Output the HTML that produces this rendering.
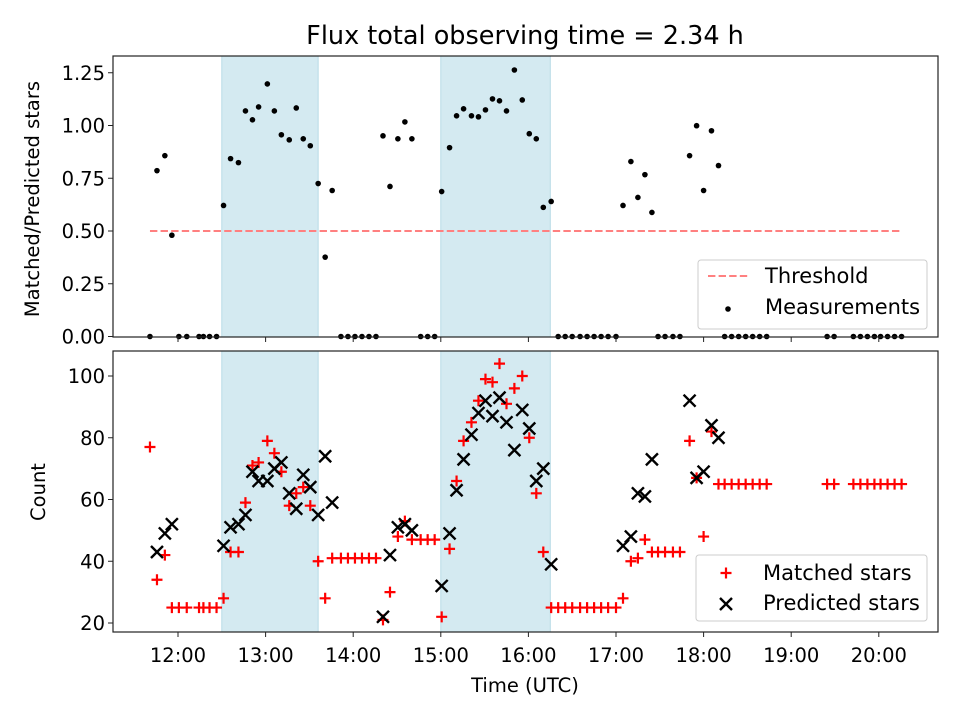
<!DOCTYPE html>
<html><head><meta charset="utf-8"><style>
body{margin:0;background:#fff}
svg{display:block;font-family:"DejaVu Sans","Liberation Sans",sans-serif}
</style></head><body>
<svg id="chart" width="960" height="720" viewBox="0 0 960 720"></svg>
<script>
const times=[11.68,11.76,11.85,11.93,12.01,12.10,12.24,12.29,12.36,12.44,
12.52,12.60,12.69,12.77,12.85,12.92,13.02,13.10,13.18,13.27,13.35,13.43,13.51,13.60,13.68,13.76,
13.86,13.94,14.02,14.10,14.18,14.26,
14.34,14.42,14.51,14.59,14.67,
14.77,14.85,14.93,
15.01,15.10,15.18,15.26,15.35,15.43,15.51,15.59,15.67,15.75,15.84,15.93,16.01,16.09,16.17,16.26,
16.34,16.42,16.50,16.59,16.67,16.75,16.83,16.91,17.00,
17.08,17.17,17.25,17.33,17.41,
17.48,17.56,17.65,17.73,
17.84,17.92,18.00,18.09,18.17,
18.24,18.32,18.40,18.48,18.56,18.64,18.72,
19.41,19.49,19.71,19.79,19.87,19.95,20.02,20.10,20.18,20.26];
const ratio=[0,0.786,0.857,0.48,0,0,0,0,0,0,
0.621,0.843,0.824,1.069,1.027,1.088,1.197,1.069,0.956,0.932,1.083,0.937,0.904,0.725,0.376,0.692,
0,0,0,0,0,0,
0.951,0.711,0.937,1.017,0.937,
0,0,0,
0.687,0.895,1.046,1.079,1.046,1.041,1.074,1.126,1.117,1.069,1.263,1.121,0.961,0.937,0.612,0.640,
0,0,0,0,0,0,0,0,0,
0.621,0.829,0.659,0.767,0.588,
0,0,0,0,
0.857,0.999,0.692,0.975,0.810,
0,0,0,0,0,0,0,
0,0,0,0,0,0,0,0,0,0];
const matched=[77,34,42,25,25,25,25,25,25,25,
28,43,43,59,71,72,79,75,69,58,62,64,58,40,28,41,
41,41,41,41,41,41,
21,30,48,53,47,
47,47,47,
22,44,66,79,85,92,99,98,104,91,96,100,80,62,43,25,
25,25,25,25,25,25,25,25,25,
28,40,41,47,43,
43,43,43,43,
79,67,48,82,65,
65,65,65,65,65,65,65,
65,65,65,65,65,65,65,65,65,65];
const predicted=[null,43,49,52,null,null,null,null,null,null,
45,51,52,55,69,66,66,70,72,62,57,68,64,55,74,59,
null,null,null,null,null,null,
22,42,51,52,50,
null,null,null,
32,49,63,73,81,88,92,87,93,85,76,89,83,66,70,39,
null,null,null,null,null,null,null,null,null,
45,48,62,61,73,
null,null,null,null,
92,67,69,84,80,
null,null,null,null,null,null,null,
null,null,null,null,null,null,null,null,null,null];
const spans=[[12.5,13.6],[15.0,16.25]];
const threshold=0.5;
const thresholdRange=[11.68,20.26];
const xTicks=[12,13,14,15,16,17,18,19,20];
const xTickLabels=["12:00","13:00","14:00","15:00","16:00","17:00","18:00","19:00","20:00"];
const topTicks=[0,0.25,0.5,0.75,1.0,1.25];
const topTickLabels=["0.00","0.25","0.50","0.75","1.00","1.25"];
const botTicks=[20,40,60,80,100];

const NS="http://www.w3.org/2000/svg";
const svg=document.getElementById('chart');
function el(tag,attrs,parent,text){const e=document.createElementNS(NS,tag);for(const k in attrs)e.setAttribute(k,attrs[k]);if(text!==undefined)e.textContent=text;(parent||svg).appendChild(e);return e;}
const L=113,R=938;
const TF=19.5, TTL=25.5, LF=21;
const xS=h=>178+(h-12)*87.6;
const T={top:56,bot:337}, B={top:351,bot:632};
const yTop=v=>336.5-v*211;
const yBot=v=>623-(v-20)*3.0875;

const title=el('text',{x:525,y:44,'text-anchor':'middle','font-size':TTL},svg,'Flux total observing time = 2.34 h');



function panel(P,name){
  const g=el('g',{});
  
  
  spans.forEach((s,i)=>{
    const r=el('rect',{x:xS(s[0]),y:P.top,width:xS(s[1])-xS(s[0]),height:P.bot-P.top,fill:'#d4eaf1',stroke:'#b8dbe6','stroke-width':1},g);
    
    
  });
  return g;
}
function frame(P,g){
  const f=el('rect',{x:L,y:P.top,width:R-L,height:P.bot-P.top,fill:'none',stroke:'#222','stroke-width':1.2},g);
  
  
  xTicks.forEach(h=>{el('line',{x1:xS(h),x2:xS(h),y1:P.bot,y2:P.bot+5,stroke:'#222','stroke-width':1},g);});
}
// TOP
const gT=panel(T,'ratio-panel');
const th=el('line',{x1:xS(thresholdRange[0]),x2:xS(thresholdRange[1]),y1:yTop(threshold),y2:yTop(threshold),stroke:'#ff8080','stroke-width':2,'stroke-dasharray':'7.4,3.2'},gT);


times.forEach((t,i)=>{
  const c=el('circle',{cx:xS(t),cy:yTop(ratio[i]),r:2.8,fill:'#000'},gT);
  
  
});
frame(T,gT);
topTicks.forEach((v,i)=>{
  el('line',{x1:L-5,x2:L,y1:yTop(v),y2:yTop(v),stroke:'#222'},gT);
  const t=el('text',{x:L-8,y:yTop(v)+7,'text-anchor':'end','font-size':TF},gT,topTickLabels[i]);
  
  
});
const yt1=el('text',{transform:'translate(39,199) rotate(-90)','text-anchor':'middle','font-size':TF},svg,'Matched/Predicted stars');


// top legend
const lg1=el('g',{});


el('rect',{x:698,y:260,width:229,height:69,rx:3,fill:'#fff','fill-opacity':0.85,stroke:'#ccc'},lg1);
el('line',{x1:708,x2:748,y1:276,y2:276,stroke:'#ff8080','stroke-width':2,'stroke-dasharray':'7.4,3.2'},lg1);
el('circle',{cx:728,cy:309,r:2.8,fill:'#000'},lg1);
const le1=el('text',{x:765,y:283,'font-size':LF},lg1,'Threshold');


const le2=el('text',{x:765,y:314,'font-size':LF},lg1,'Measurements');



// BOTTOM
const gB=panel(B,'count-panel');
function plus(x,y,g){return el('path',{d:`M${x-5.5},${y}H${x+5.5}M${x},${y-5.5}V${y+5.5}`,stroke:'#ff0000','stroke-width':2.2,fill:'none'},g);}
function cross(x,y,g){return el('path',{d:`M${x-6},${y-6}L${x+6},${y+6}M${x-6},${y+6}L${x+6},${y-6}`,stroke:'#000','stroke-width':2.4,fill:'none'},g);}
times.forEach((t,i)=>{
  const p=plus(xS(t),yBot(matched[i]),gB);
  
  
});
times.forEach((t,i)=>{
  if(predicted[i]===null)return;
  const p=cross(xS(t),yBot(predicted[i]),gB);
  
  
});
frame(B,gB);
botTicks.forEach(v=>{
  el('line',{x1:L-5,x2:L,y1:yBot(v),y2:yBot(v),stroke:'#222'},gB);
  const t=el('text',{x:L-8,y:yBot(v)+7,'text-anchor':'end','font-size':TF},gB,String(v));
  
  
});
xTicks.forEach((h,i)=>{
  const t=el('text',{x:xS(h),y:662,'text-anchor':'middle','font-size':TF},gB,xTickLabels[i]);
  
  
});
const xt=el('text',{x:525,y:692,'text-anchor':'middle','font-size':TF},svg,'Time (UTC)');


const yt2=el('text',{transform:'translate(45,492) rotate(-90)','text-anchor':'middle','font-size':TF},svg,'Count');


const lg2=el('g',{});


el('rect',{x:696,y:555,width:231,height:66,rx:3,fill:'#fff','fill-opacity':0.85,stroke:'#ccc'},lg2);
plus(726,573,lg2);
cross(726,604,lg2);
const le3=el('text',{x:763,y:580,'font-size':LF},lg2,'Matched stars');


const le4=el('text',{x:763,y:610,'font-size':LF},lg2,'Predicted stars');


</script>
</body></html>
